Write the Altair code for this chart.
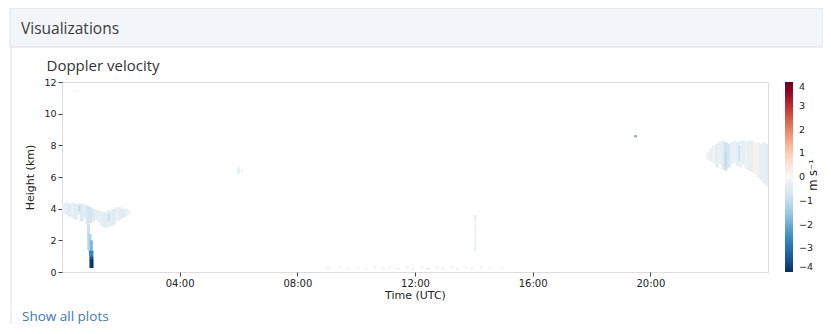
import altair as alt
import pandas as pd

# ---------------- data ----------------
# Low cloud layer at the start of the day: column start (h), top (km), base (km), velocity (m/s)
left_t0 = [0.0, 0.1, 0.2, 0.3, 0.4, 0.5, 0.6, 0.7, 0.8, 0.9, 1.0, 1.1,
           1.2, 1.3, 1.4, 1.5, 1.6, 1.7, 1.8, 1.9, 2.0, 2.1, 2.2]
left_top = [4.35, 4.4, 4.3, 4.4, 4.3, 4.35, 4.3, 4.3, 4.2, 4.1, 4.0, 3.9,
            3.9, 3.8, 3.8, 3.9, 3.9, 4.0, 4.1, 4.1, 4.0, 4.0, 3.9]
left_bot = [3.7, 3.6, 3.5, 3.4, 3.3, 3.6, 3.2, 3.4, 3.0, 3.1, 3.2, 3.3,
            3.1, 2.9, 2.8, 2.8, 2.9, 3.0, 3.2, 3.3, 3.4, 3.5, 3.6]
left_v = [-0.3, -0.4, -0.5, -0.3, -0.5, -0.4, -0.6, -0.4, -0.7, -0.8, -0.6, -0.4,
          -0.3, -0.4, -0.5, -0.3, -0.4, -0.5, -0.3, -0.4, -0.5, -0.3, -0.2]

# Upper cloud at the end of the day
right_t0 = [21.9, 22.0, 22.1, 22.2, 22.3, 22.4, 22.5, 22.6, 22.7, 22.8, 22.9,
            23.0, 23.1, 23.2, 23.3, 23.4, 23.5, 23.6, 23.7, 23.8, 23.9]
right_top = [7.6, 7.8, 8.0, 8.1, 8.2, 8.3, 8.2, 8.1, 8.2, 8.3, 8.2,
             8.3, 8.3, 8.2, 8.3, 8.3, 8.2, 8.2, 8.1, 8.2, 8.1]
right_bot = [7.1, 7.0, 6.9, 6.6, 6.8, 6.5, 6.4, 6.6, 6.8, 6.9, 6.7,
             6.6, 6.8, 6.5, 6.4, 6.3, 6.2, 6.0, 5.8, 5.6, 5.4]
right_v = [-0.2, -0.3, -0.2, -0.4, -0.3, -0.4, -0.8, -0.7, -0.3, -0.2, -0.4,
           -0.3, -0.4, -0.2, -0.3, -0.3, 0.2, -0.2, -0.3, -0.3, -0.4]

# Other patches: start time, end time, bottom, top, velocity
patch_t0 = [0.55, 1.55, 0.85, 0.90, 0.95, 0.92, 0.93, 0.96,
            22.5, 23.0, 23.3,
            14.02, 14.02, 14.02, 14.02,
            5.95, 6.10, 19.45, 0.42]
patch_t1 = [0.62, 1.62, 0.95, 1.00, 1.05, 1.07, 1.07, 1.06,
            22.6, 23.05, 23.35,
            14.07, 14.07, 14.07, 14.07,
            6.05, 6.15, 19.55, 0.47]
patch_h0 = [3.8, 3.2, 1.4, 1.2, 1.3, 1.0, 0.25, 0.25,
            6.6, 7.0, 7.3,
            1.3, 2.0, 2.8, 3.3,
            6.2, 6.3, 8.5, 11.4]
patch_h1 = [4.2, 3.7, 3.0, 2.4, 2.0, 1.35, 1.0, 0.8,
            7.6, 8.0, 8.1,
            2.0, 2.8, 3.3, 3.6,
            6.6, 6.5, 8.65, 11.5]
patch_v = [-1.0, -0.9, -0.9, -1.3, -1.8, -2.6, -3.4, -3.9,
           -1.0, -0.9, 0.4,
           0.4, -0.4, 0.3, -0.7,
           -0.4, -0.3, -1.8, -0.3]

# Ground clutter specks near the surface (start time, velocity)
speck_t0 = [9.0, 9.4, 9.7, 10.0, 10.3, 10.6, 10.9, 11.1, 11.4, 11.7, 11.9,
            12.2, 12.4, 12.7, 12.9, 13.2, 13.4, 13.7, 13.9, 14.2, 14.5, 14.9]
speck_v = [-0.5, 0.5, -0.6, 0.4, -0.5, 0.7, -0.4, 0.6, -0.7, 0.8, -0.5,
           0.5, 0.9, -0.6, 0.7, -0.6, 0.5, -0.4, 0.6, -0.5, 0.4, -0.3]

cbar_ticks = [-4, -3, -2, -1, 0, 1, 2, 3, 4]
x_ticks = [4, 8, 12, 16, 20]
y_ticks = [0, 2, 4, 6, 8, 10, 12]

# RdBu_r colour map
cmap_colors = ["#053061", "#2166ac", "#4393c3", "#92c5de", "#d1e5f0", "#f7f7f7",
               "#fddbc7", "#f4a582", "#d6604d", "#b2182b", "#67001f"]
cmap_stops = [-4, -3.2, -2.4, -1.6, -0.8, 0, 0.8, 1.6, 2.4, 3.2, 4]

# ---------------- build table ----------------
rows = []
for t, top, bot, v in zip(left_t0, left_top, left_bot, left_v):
    rows.append(dict(t0=t, t1=t + 0.13, h0=bot, h1=top, v=v))
for t, top, bot, v in zip(right_t0, right_top, right_bot, right_v):
    rows.append(dict(t0=t, t1=min(t + 0.13, 24), h0=bot, h1=top, v=v))
for a, b, c, d, v in zip(patch_t0, patch_t1, patch_h0, patch_h1, patch_v):
    rows.append(dict(t0=a, t1=b, h0=c, h1=d, v=v))
for i, (t, v) in enumerate(zip(speck_t0, speck_v)):
    base = 0.18 if i % 2 == 0 else 0.26
    rows.append(dict(t0=t, t1=t + 0.08, h0=base, h1=base + 0.07, v=v))
cells = pd.DataFrame(rows)

AXIS_FONT = "DejaVu Sans"
PAGE_FONT = "Open Sans"

heat = alt.Chart(cells).mark_rect(strokeWidth=0).encode(
    x=alt.X("t0:Q", scale=alt.Scale(domain=[0, 24], nice=False),
            axis=alt.Axis(values=x_ticks, title="Time (UTC)",
                          labelExpr="(datum.value < 10 ? '0' : '') + datum.value + ':00'",
                          grid=False, domain=False, tickColor="#444", tickSize=4,
                          labelFont=AXIS_FONT, labelFontSize=10, labelColor="#222",
                          labelPadding=2, titleFont=AXIS_FONT, titleFontSize=11,
                          titleFontWeight="normal", titleColor="#222", titlePadding=1)),
    x2="t1:Q",
    y=alt.Y("h0:Q", scale=alt.Scale(domain=[0, 12], nice=False),
            axis=alt.Axis(values=y_ticks, title="Height (km)", grid=False, domain=False,
                          tickColor="#444", tickSize=4, labelFont=AXIS_FONT,
                          labelFontSize=9.5, labelColor="#222", labelPadding=2,
                          titleFont=AXIS_FONT, titleFontSize=11, titleFontWeight="normal",
                          titleColor="#222", titlePadding=8)),
    y2="h1:Q",
    color=alt.Color("v:Q", scale=alt.Scale(domain=cmap_stops, range=cmap_colors),
                    legend=alt.Legend(orient="none", legendX=723, legendY=0,
                                      direction="vertical", gradientLength=190,
                                      gradientThickness=8, values=cbar_ticks,
                                      title=None, labelFont=AXIS_FONT, labelFontSize=9.5,
                                      labelColor="#222", labelOffset=6, padding=0)),
)

one = pd.DataFrame({"k": [0]})

header = alt.Chart(one).mark_rect(fill="#f3f6f9", stroke="#dde2e6", strokeWidth=1).encode(
    x=alt.value(-52), x2=alt.value(761), y=alt.value(-74), y2=alt.value(-35))

border = alt.Chart(one).mark_rule(color="#dde2e6", strokeWidth=1).encode(
    x=alt.value(-51), y=alt.value(-35), y2=alt.value(242))


def label(txt, x, y, size, color, font=PAGE_FONT, angle=0, align="left", baseline="alphabetic"):
    d = pd.DataFrame({"label": [txt]})
    return alt.Chart(d).mark_text(font=font, fontSize=size, color=color, angle=angle,
                                  align=align, baseline=baseline).encode(
        text="label:N", x=alt.value(x), y=alt.value(y))


t_vis = label("Visualizations", -41, -48.5, 15.5, "#3a3a3a")
t_title = label("Doppler velocity", -15.5, -11.3, 15, "#333333")
t_link = label("Show all plots", -40, 239, 13.5, "#3a78c2")
t_unit = label("m s⁻¹", 752, 93, 11.5, "#222", font=AXIS_FONT, angle=270,
               align="center", baseline="middle")

chart = alt.layer(header, border, t_vis, t_title, t_link, heat, t_unit).properties(
    width=706, height=190,
    autosize=alt.AutoSizeParams(type="none"),
    padding={"left": 54, "top": 74, "right": 55, "bottom": 52},
).configure_view(stroke="#999999", strokeWidth=1).configure(background="white")

chart.save("out.html", embed_options={"renderer": "svg", "actions": False})
